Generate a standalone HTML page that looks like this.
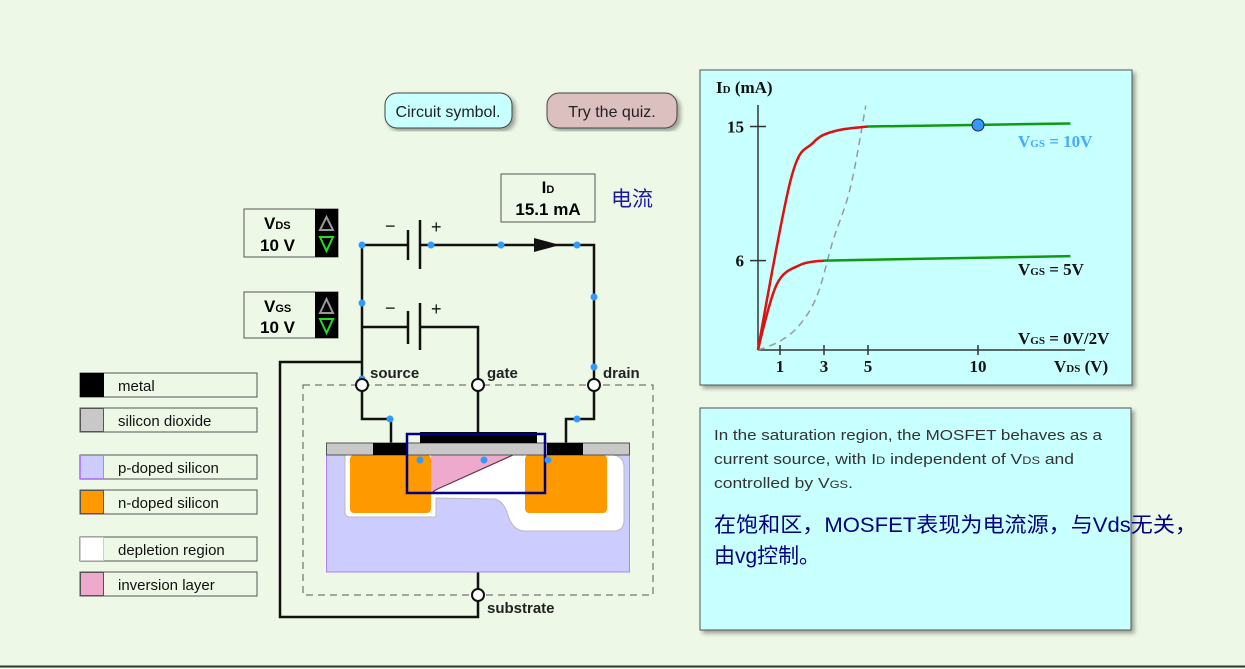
<!DOCTYPE html>
<html><head><meta charset="utf-8"><style>
html,body{margin:0;padding:0;background:#eef8e6;}
svg{display:block;font-family:"Liberation Sans","Noto Sans CJK SC",sans-serif;}
.lg{font-size:15px;fill:#111;}
.tk{font-family:"Liberation Serif",serif;font-weight:bold;font-size:17px;fill:#111;}
</style></head><body>
<svg id="s" width="1245" height="669" viewBox="0 0 1245 669">
<defs><filter id="sh" x="-5%" y="-5%" width="115%" height="115%"><feDropShadow dx="3" dy="3" stdDeviation="2" flood-color="#000" flood-opacity="0.35"/></filter></defs>
<rect width="1245" height="669" fill="#eef8e6"/>
<line x1="0" y1="666.5" x2="1245" y2="666.5" stroke="#333" stroke-width="2"/>

<g><rect x="385" y="93" width="127" height="35" rx="12" fill="#c8ffff" stroke="#444" filter="url(#sh)"/><text x="448" y="117" text-anchor="middle" font-size="16" fill="#222">Circuit symbol.</text></g>
<g><rect x="547" y="93" width="130" height="35" rx="12" fill="#dcc0c0" stroke="#444" filter="url(#sh)"/><text x="612" y="117" text-anchor="middle" font-size="16" fill="#222">Try the quiz.</text></g>

<g>
<g><rect x="80" y="373" width="177" height="24" fill="#eef8e6" stroke="#555"/><rect x="80" y="373" width="24" height="24" fill="#000"/><text class="lg" x="118" y="391">metal</text></g>
<g><rect x="80" y="408" width="177" height="24" fill="#eef8e6" stroke="#555"/><rect x="80.5" y="408.5" width="23" height="23" fill="#c8c8c8" stroke="#555"/><text class="lg" x="118" y="426">silicon dioxide</text></g>
<g><rect x="80" y="455" width="177" height="24" fill="#eef8e6" stroke="#555"/><rect x="80.5" y="455.5" width="23" height="23" fill="#ccccff" stroke="#b080ff"/><text class="lg" x="118" y="473">p-doped silicon</text></g>
<g><rect x="80" y="490" width="177" height="24" fill="#eef8e6" stroke="#555"/><rect x="80.5" y="490.5" width="23" height="23" fill="#ff9900" stroke="#555"/><text class="lg" x="118" y="508">n-doped silicon</text></g>
<g><rect x="80" y="537" width="177" height="24" fill="#eef8e6" stroke="#555"/><rect x="80.5" y="537.5" width="23" height="23" fill="#fff" stroke="#ccc"/><text class="lg" x="118" y="555">depletion region</text></g>
<g><rect x="80" y="572" width="177" height="24" fill="#eef8e6" stroke="#555"/><rect x="80.5" y="572.5" width="23" height="23" fill="#eeaacc" stroke="#555"/><text class="lg" x="118" y="590">inversion layer</text></g>
</g>

<g><rect x="244" y="209" width="94" height="48" fill="#eef8e6" stroke="#555"/><rect x="315" y="209" width="23" height="48" fill="#000"/><text x="264" y="229" font-size="17" font-weight="bold">V<tspan font-size="11">DS</tspan></text><text x="260" y="251" font-size="17" font-weight="bold">10 V</text><path d="M320 230 L326.5 217 L333 230Z" fill="none" stroke="#999" stroke-width="2"/><path d="M320 237 L326.5 251 L333 237Z" fill="none" stroke="#22dd22" stroke-width="2"/></g>
<g><rect x="244" y="292" width="94" height="46" fill="#eef8e6" stroke="#555"/><rect x="315" y="292" width="23" height="46" fill="#000"/><text x="264" y="312" font-size="17" font-weight="bold">V<tspan font-size="11">GS</tspan></text><text x="260" y="333" font-size="17" font-weight="bold">10 V</text><path d="M320 313 L326.5 299 L333 313Z" fill="none" stroke="#999" stroke-width="2"/><path d="M320 319 L326.5 333 L333 319Z" fill="none" stroke="#22dd22" stroke-width="2"/></g>
<g><rect x="501" y="174" width="94" height="48" fill="#eef8e6" stroke="#555"/><text x="548" y="193" text-anchor="middle" font-size="17" font-weight="bold">I<tspan font-size="11">D</tspan></text><text x="548" y="215" text-anchor="middle" font-size="17" font-weight="bold">15.1 mA</text></g>
<text x="611" y="206" font-size="21" fill="#1a1aa0" font-family="'Noto Sans CJK SC',sans-serif">电流</text>

<g fill="none" stroke="#111" stroke-width="2.5">
<path d="M408 245 H362 V379"/><path d="M420 245 H594 V379"/>
<path d="M408 327 H362"/><path d="M420 327 H478 V379"/>
<path d="M362 362 H280 V617 H478 V601"/>
<path d="M362 391 V419 H391 V443"/><path d="M594 391 V419 H566 V443"/>
<path d="M478 391 V432"/><path d="M478 572 V589"/>
<line x1="408" y1="230" x2="408" y2="260"/><line x1="420" y1="220" x2="420" y2="269"/>
<line x1="408" y1="311" x2="408" y2="344"/><line x1="420" y1="303" x2="420" y2="350"/>
</g>
<path d="M534 238 L560 245 L534 252Z" fill="#111"/>
<g font-size="18" fill="#111"><text x="385" y="232">−</text><text x="431" y="233">+</text><text x="385" y="314">−</text><text x="431" y="315">+</text></g>
<rect x="303" y="385" width="350" height="210" fill="none" stroke="#555" stroke-dasharray="7,5"/>

<g>
<rect x="326.5" y="455" width="303" height="117" fill="#ccccff" stroke="#b080ff"/>
<path d="M345 455 V512 Q345 517 350 517 H436 V498 L495 499 Q503 501 507 512 Q512 531 525 531 H613 Q624 531 624 520 V468 Q624 456 613 455Z" fill="#fff" stroke="#bbb"/>
<rect x="350" y="455" width="81" height="58" rx="4" fill="#ff9900"/>
<rect x="525" y="455" width="82" height="58" rx="4" fill="#ff9900"/>
<path d="M431 455 L513 455 L442 487 Q434 490 431 494Z" fill="#eeaacc"/>
<path d="M513 455 L442 487 Q434 490 431 494" fill="none" stroke="#703040" stroke-width="1.2"/>
<rect x="326.5" y="443" width="303" height="12" fill="#c8c8c8" stroke="#555"/>
<rect x="373" y="443" width="34" height="12" fill="#000"/>
<rect x="547" y="443" width="36" height="12" fill="#000"/>
<rect x="420" y="432" width="117" height="11" fill="#000"/>
<rect x="407" y="434" width="138" height="59" fill="none" stroke="#000080" stroke-width="2.5"/>
</g>
<g fill="#3399ff">
<circle cx="362" cy="245" r="3.5"/><circle cx="431" cy="245" r="3.5"/><circle cx="501" cy="245" r="3.5"/><circle cx="577" cy="245" r="3.5"/>
<circle cx="362" cy="303" r="3.5"/><circle cx="594" cy="297" r="3.5"/><circle cx="594" cy="367" r="3.5"/><circle cx="362" cy="379" r="3.5"/>
<circle cx="390" cy="419" r="3.5"/><circle cx="577" cy="419" r="3.5"/><circle cx="420" cy="460" r="3.5"/><circle cx="484" cy="460" r="3.5"/><circle cx="548" cy="460" r="3.5"/>
</g>
<g fill="#fff" stroke="#111" stroke-width="2"><circle cx="362" cy="385" r="6"/><circle cx="478" cy="385" r="6"/><circle cx="594" cy="385" r="6"/><circle cx="478" cy="595" r="6"/></g>
<g font-size="15" font-weight="bold" fill="#222"><text x="370" y="378">source</text><text x="487" y="378">gate</text><text x="603" y="378">drain</text><text x="487" y="613">substrate</text></g>

<rect x="700" y="70" width="432" height="315" fill="#c8ffff" stroke="#555" filter="url(#sh)"/>
<g id="chart"></g>

<rect x="700" y="408" width="431" height="222" fill="#c8ffff" stroke="#555" filter="url(#sh)"/>
<g font-size="15" fill="#333">
<text x="714" y="440" textLength="388" lengthAdjust="spacingAndGlyphs">In the saturation region, the MOSFET behaves as a</text>
<text x="714" y="464" textLength="360" lengthAdjust="spacingAndGlyphs">current source, with I<tspan font-size="11">D</tspan> independent of V<tspan font-size="11">DS</tspan> and</text>
<text x="714" y="488" textLength="139" lengthAdjust="spacingAndGlyphs">controlled by V<tspan font-size="11">GS</tspan>.</text>
</g>
<g font-size="21" fill="#000080">
<text x="714" y="532" textLength="483" lengthAdjust="spacingAndGlyphs">在饱和区，MOSFET表现为电流源，与Vds无关，</text>
<text x="714" y="563" textLength="106" lengthAdjust="spacingAndGlyphs">由vg控制。</text>
</g>
</svg>
<script>
const xTicks=[1,3,5,10];
const yTicks=[6,15];
const curve10Vds=[0,1.5,2.5,3.5,5];
const curve10Id=[0,11.5,13.9,14.7,15];
const sat10Vds=[5,14.2];
const sat10Id=[15,15.2];
const curve5Vds=[0,0.85,1.9,3];
const curve5Id=[0,4.4,5.7,6];
const sat5Vds=[3,14.2];
const sat5Id=[6,6.3];
const boundVds=[0,1,1.9,2.7,3.4,4.2,4.9];
const boundId=[0,0.6,1.7,3.7,7.3,10.9,16.4];
const opVds=10, opId=15.1;
const X=v=>758+v*22, Y=i=>350-i*14.9;
const NS='http://www.w3.org/2000/svg', g=document.getElementById('chart');
function mk(t,a){const e=document.createElementNS(NS,t);for(const k in a)e.setAttribute(k,a[k]);g.appendChild(e);return e;}
function cl(v,a,b){const lo=Math.min(a,b),hi=Math.max(a,b);return Math.max(lo,Math.min(hi,v));}
function line(xs,ys,stroke,extra){
  const p=xs.map((v,i)=>[X(v),Y(ys[i])]);
  let d='M'+p[0][0].toFixed(1)+' '+p[0][1].toFixed(1);
  for(let i=0;i<p.length-1;i++){
    const p0=p[i-1]||p[i],p1=p[i],p2=p[i+1],p3=p[i+2]||p2;
    const t=(i===0)?0:1/6;
    const c1=[cl(p1[0]+(p2[0]-p0[0])*t,p1[0],p2[0]),cl(p1[1]+(p2[1]-p0[1])*t,p1[1],p2[1])];
    const c2=[cl(p2[0]-(p3[0]-p1[0])/6,p1[0],p2[0]),cl(p2[1]-(p3[1]-p1[1])/6,p1[1],p2[1])];
    d+=' C'+c1[0].toFixed(1)+' '+c1[1].toFixed(1)+' '+c2[0].toFixed(1)+' '+c2[1].toFixed(1)+' '+p2[0].toFixed(1)+' '+p2[1].toFixed(1);
  }
  return mk('path',Object.assign({d:d,fill:'none',stroke:stroke,'stroke-width':2.5,'stroke-linejoin':'round'},extra||{}));}
let e;
e=mk('line',{x1:758,y1:105,x2:758,y2:350,stroke:'#333','stroke-width':1.5});


e=mk('line',{x1:758,y1:350,x2:1085,y2:350,stroke:'#333','stroke-width':1.5});


xTicks.forEach(v=>{mk('line',{x1:X(v),y1:345,x2:X(v),y2:355,stroke:'#333','stroke-width':1.5});
e=mk('text',{x:X(v),y:372,'text-anchor':'middle',class:'tk'});e.textContent=v;

});
yTicks.forEach(v=>{mk('line',{x1:750,y1:Y(v),x2:766,y2:Y(v),stroke:'#333','stroke-width':1.5});
e=mk('text',{x:744,y:Y(v)+6,'text-anchor':'end',class:'tk'});e.textContent=v;

});
e=line(boundVds,boundId,'#999',{'stroke-width':1.5,'stroke-dasharray':'7,5'});


e=line(curve10Vds,curve10Id,'#dd1111');


e=line(sat10Vds,sat10Id,'#119911');


e=line(curve5Vds,curve5Id,'#dd1111');


e=line(sat5Vds,sat5Id,'#119911');


e=mk('circle',{cx:X(opVds),cy:Y(opId),r:6,fill:'#3399ff',stroke:'#224','stroke-width':1});


function lab(x,y,html,fill,name){const t=mk('text',{x:x,y:y,'font-size':17,'font-weight':'bold',fill:fill,'font-family':'Liberation Serif,serif'});t.innerHTML=html;

}
lab(716,93,'I<tspan font-size="11">D</tspan> (mA)','#111','y-axis-title');
lab(1054,372,'V<tspan font-size="11">DS</tspan> (V)','#111','x-axis-title');
lab(1018,147,'V<tspan font-size="11">GS</tspan> = 10V','#44aaff','label-vgs10');
lab(1018,275,'V<tspan font-size="11">GS</tspan> = 5V','#111','label-vgs5');
lab(1018,344,'V<tspan font-size="11">GS</tspan> = 0V/2V','#111','label-vgs0');
</script>
</body></html>
